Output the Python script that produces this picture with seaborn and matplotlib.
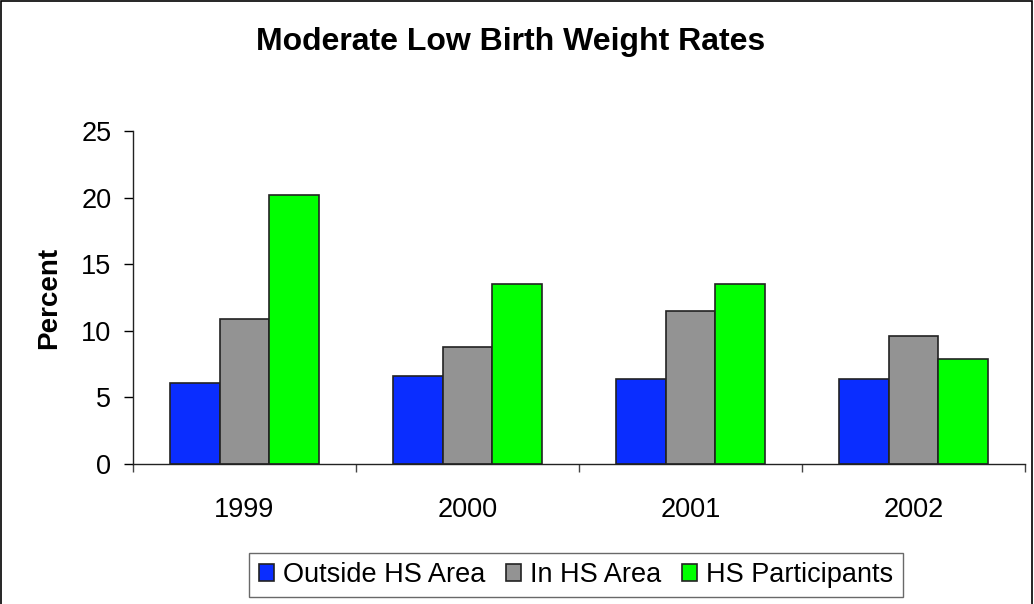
import pandas as pd
import seaborn as sns
import matplotlib.pyplot as plt
from matplotlib.patches import Rectangle

years = ['1999', '2000', '2001', '2002']
outside_hs = [6.1, 6.6, 6.4, 6.4]
in_hs = [10.9, 8.8, 11.5, 9.6]
hs_participants = [20.2, 13.5, 13.5, 7.9]
groups = ['Outside HS Area', 'In HS Area', 'HS Participants']
colors = ['#0A2DFF', '#939393', '#00FF00']

df = pd.DataFrame({
    'Year': years * 3,
    'Percent': outside_hs + in_hs + hs_participants,
    'Group': [g for g in groups for _ in years],
})

sns.set_style('white')
plt.rcParams['font.family'] = ['Liberation Sans', 'DejaVu Sans']
plt.rcParams['text.color'] = 'black'
plt.rcParams['axes.labelcolor'] = 'black'
plt.rcParams['xtick.color'] = 'black'
plt.rcParams['ytick.color'] = 'black'

fig = plt.figure(figsize=(10.34, 6.04), dpi=100)
ax = fig.add_axes([0.1286, 0.2318, 0.8627, 0.5513])

sns.barplot(data=df, x='Year', y='Percent', hue='Group', palette=colors,
            width=0.67, gap=0, edgecolor='#222222', linewidth=1.2,
            saturation=1, ax=ax, legend=True)

ax.set_ylim(0, 25)
ax.set_yticks([0, 5, 10, 15, 20, 25])
ax.set_xlim(-0.5, 3.5)
ax.tick_params(axis='y', labelsize=19.5, length=6.5, width=1, direction='out', left=True, pad=9)
ax.tick_params(axis='x', which='major', labelsize=19.5, length=0, pad=24)
ax.set_xticks([-0.5, 0.5, 1.5, 2.5, 3.5], minor=True)
ax.tick_params(axis='x', which='minor', length=6, width=1, direction='out', bottom=True, color='#444444')
ax.set_xlabel('')
ax.set_ylabel('Percent', fontsize=20, fontweight='bold', labelpad=14)
for side in ['top', 'right']:
    ax.spines[side].set_visible(False)
for side in ['left', 'bottom']:
    ax.spines[side].set_color('#222222')
    ax.spines[side].set_linewidth(1)

fig.text(0.494, 0.93, 'Moderate Low Birth Weight Rates', ha='center', va='center',
         fontsize=23, fontweight='bold')

handles, labels = ax.get_legend_handles_labels()
ax.get_legend().remove()
leg = fig.legend(handles, labels, loc='center', bbox_to_anchor=(576 / 1034, 1 - 575 / 604),
                 ncol=3, fontsize=19.5, frameon=True, fancybox=False, edgecolor='#444444',
                 handlelength=0.55, handleheight=0.55, handletextpad=0.35, columnspacing=0.75,
                 borderpad=0.35, borderaxespad=0)
leg.get_frame().set_linewidth(1)

fig.patches.append(Rectangle((0.0005, -0.01), 0.998, 1.009, transform=fig.transFigure,
                             fill=False, edgecolor='black', linewidth=1.2))

fig.savefig('out.png', dpi=100)
